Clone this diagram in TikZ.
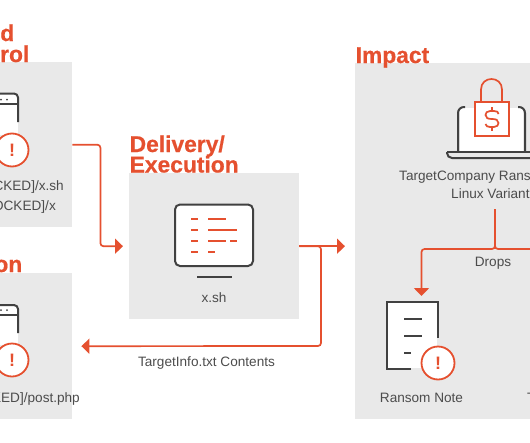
\documentclass[tikz,border=0pt]{standalone}
\usepackage{fontspec}
\setmainfont{Liberation Sans}
\newfontfamily\headfont[FakeBold=0.6]{Liberation Sans Bold}
\usepackage{xcolor}
\usetikzlibrary{positioning,arrows.meta,calc}
\definecolor{accent}{HTML}{E5502F}
\definecolor{ink}{HTML}{414141}
\definecolor{label}{HTML}{4C4C4C}
\definecolor{panelgray}{HTML}{E9E9E9}

\begin{document}
\begin{tikzpicture}[
    x=1pt, y=-1pt,
    panel/.style={fill=panelgray, inner sep=0pt, anchor=north west},
    head/.style={text=accent, font=\fontsize{22.8}{21}\headfont, inner sep=0pt},
    txt/.style={text=label, font=\fontsize{13.6}{18}\selectfont, inner sep=0pt},
    alertring/.style={circle, draw=accent, fill=white, line width=1.8pt, minimum size=33pt, inner sep=0pt, text=accent, font=\fontsize{18}{18}\selectfont\bfseries},
    icon/.style={draw=ink, line width=2pt},
    redline/.style={draw=accent, line width=1.8pt},
    lockline/.style={draw=accent, line width=1.7pt},
    conn/.style={draw=accent, line width=1.7pt, rounded corners=3pt},
    arr/.style={conn, -{Triangle[length=8pt, width=15pt]}}
]
\useasboundingbox (0,0) rectangle (530,442);

% panels
\node[panel, minimum width=112pt, minimum height=165pt] (ctwo) at (-40,62) {};
\node[panel, minimum width=112pt, minimum height=146pt] (exfil) at (-40,273) {};
\node[panel, minimum width=170pt, minimum height=146pt] (delivery) at (129,173) {};
\node[panel, minimum width=185pt, minimum height=356pt] (impact) at (355,63) {};

% headings
\node[head, anchor=base east] (ctwohead) at (14.5,41) {Command and};
\node[head, anchor=base east] (ctwohead2) at (29.5,62) {Control};
\node[head, anchor=base east] (exfilhead) at (22.5,272) {Exfiltration};
\node[head, anchor=base west] (delhead) at (129.5,152) {Delivery/};
\node[head, anchor=base west] (delhead2) at (129.5,172.5) {Execution};
\node[head, anchor=base west] (imphead) at (355.5,63) {Impact};

% window icons
\fill[white] (-30,94) rectangle (18,135);
\draw[icon, rounded corners=4pt] (-30,93.5) -- (18,93.5) -- (18,122);
\draw[icon] (-30,103.5) -- (18,103.5);
\fill[ink] (1,99.5) circle (1pt) (7,99.5) circle (1pt);
\node[alertring] (alertctwo) at (12,150) {!};

\fill[white] (-30,306) rectangle (18,345);
\draw[icon, rounded corners=4pt] (-30,305) -- (18,305) -- (18,333);
\draw[icon] (-30,314.5) -- (18,314.5);
\fill[ink] (1,310) circle (1pt) (7,310) circle (1pt);
\node[alertring] (alertexfil) at (12,360) {!};

\node[txt, anchor=base east] (urlx) at (64,190) {[BLOCKED]/x.sh};
\node[txt, anchor=base east] (urlxb) at (56,210) {[BLOCKED]/x};
\node[txt, anchor=base east] (urlpost) at (80,402) {[BLOCKED]/post.php};

% monitor
\draw[icon, fill=white, rounded corners=5pt] (175,204.5) rectangle (253,266);
\draw[icon] (197,277) -- (232,277);
\draw[redline] (191,219) -- (198,219) (208,219) -- (226,219);
\draw[redline] (191,230) -- (198,230) (208,230) -- (237,230);
\draw[redline] (191,241) -- (198,241) (208,241) -- (226,241) (230,241) -- (237,241);
\draw[redline] (191,252) -- (198,252) (208,252) -- (215,252);
\node[txt, anchor=base] (xsh) at (214,302) {x.sh};

% laptop and lock
\fill[white] (460,108) rectangle (523,151);
\draw[icon, rounded corners=6pt] (465,107) -- (458,107) -- (458,151);
\draw[icon, rounded corners=6pt] (518,107) -- (525,107) -- (525,151);
\draw[icon, rounded corners=5pt] (447,152) -- (447,158) -- (540,158);
\draw[icon] (447,152) -- (540,152);
\draw[lockline, fill=white] (475,102) rectangle (509,136);
\draw[lockline] (481,102) -- (481,89.5) .. controls (481,75.5) and (502,75.5) .. (502,89.5) -- (502,102);
\draw[lockline] (498.5,114) .. controls (498.5,112) and (497,111) .. (494,111) -- (490,111) .. controls (487,111) and (485.5,113) .. (485.5,115) .. controls (485.5,118) and (488,119) .. (492,119) .. controls (496,119) and (498.5,120) .. (498.5,123) .. controls (498.5,125) and (497,127) .. (494,127) -- (490,127) .. controls (487.5,127) and (486,126) .. (485.5,124);
\draw[lockline] (492,107) -- (492,111) (492,127) -- (492,131);
\node[txt, anchor=base west] (ransomware) at (399,180) {TargetCompany Ransomware};
\node[txt, anchor=base west] (variant) at (451,198) {Linux Variant};

% ransom note
\fill[white] (388,303) rectangle (437,368);
\draw[icon] (411,369) -- (387,369) -- (387,302) -- (438,302) -- (438,338);
\draw[icon] (404,319) -- (422,319) (404,336) -- (422,336) (404,353) -- (411,353);
\node[alertring] (alertnote) at (438,363) {!};
\node[txt, anchor=base] (note) at (421.5,402) {Ransom Note};
\node[txt, anchor=base west] (cutlabel) at (527,402) {T};

% connectors
\coordinate (dropstart) at (495,209);
\coordinate (dropleft) at (421.5,249);
\coordinate (dropright) at (545,249);
\coordinate (notein) at (421.5,296);
\coordinate (backcorner) at (321,346);
\draw[arr, shorten >=6pt] (ctwo.east) -- ++(28,0) |- (delivery.west);
\draw[arr, shorten >=10pt] (delivery.east) -- (impact.west |- delivery.east);
\draw[arr, shorten >=9pt] (delivery.east) -| (backcorner) -- (exfil.east);
\draw[arr] (dropstart) |- (dropleft) -- (notein);
\draw[conn] (dropstart) |- (dropright);
\node[txt, anchor=base] (tinfo) at (206.5,366) {TargetInfo.txt Contents};
\node[txt, anchor=base] (drops) at (493,266) {Drops};
\end{tikzpicture}
\end{document}
